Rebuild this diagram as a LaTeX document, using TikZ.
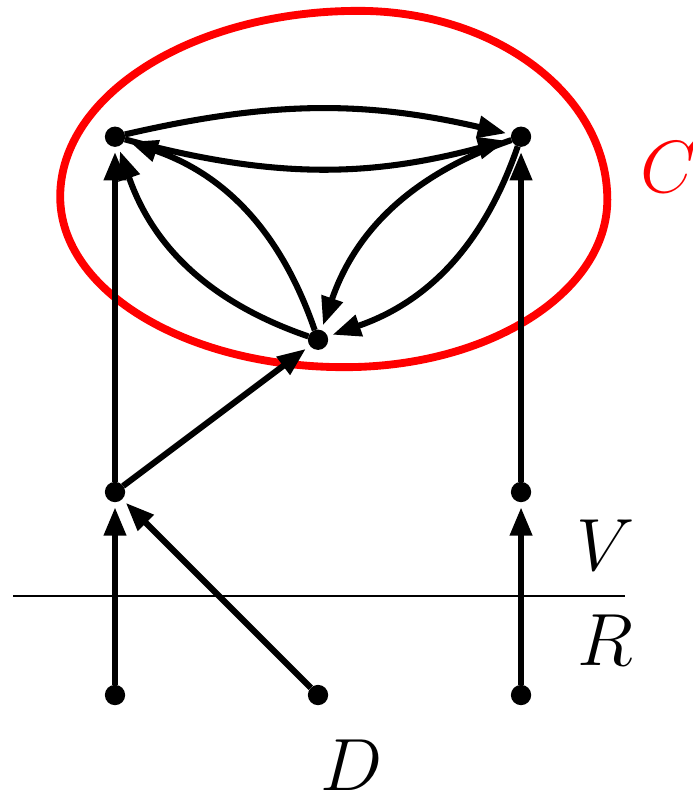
\documentclass[tikz,border=0pt]{standalone}
\usetikzlibrary{arrows.meta}
\begin{document}
\begin{tikzpicture}[>={Triangle[length=2.8mm,width=2.1mm]}, line width=1.7pt,
		dot/.style={circle, fill, inner sep=0pt, minimum size=2mm, outer sep=0pt},
		arr/.style={->, shorten >=0.5mm},
		lbl/.style={font=\huge}]
	\useasboundingbox (-1.133,-1.034) rectangle (5.685,6.847);
	% the set C
	\draw[red, line width=2.2pt] (-0.54,4.91) .. controls (-0.54,5.92) and (0.78,6.74) .. (2.40,6.74)
		.. controls (3.75,6.74) and (4.85,5.91) .. (4.85,4.88)
		.. controls (4.85,3.97) and (3.69,3.23) .. (2.26,3.23)
		.. controls (0.71,3.23) and (-0.54,3.98) .. cycle;
	\node[lbl, text=red] (c) at (5.46,5.2) {$C$};
	% the line between V and R
	\coordinate (w) at (-1,0.975);
	\coordinate (e) at (5.02,0.975);
	\draw[semithick] (w) -- (e);
	\node[lbl] (v) at (4.83,1.48) {$V$};
	\node[lbl] (r) at (4.83,0.54) {$R$};
	\node[lbl] (d) at (2.33,-0.69) {$D$};
	% vertices
	\node[dot] (r1) at (0,0) {};
	\node[dot] (r2) at (2,0) {};
	\node[dot] (r3) at (4,0) {};
	\node[dot] (v1) at (0,2) {};
	\node[dot] (v2) at (4,2) {};
	\node[dot] (m) at (2,3.5) {};
	\node[dot] (a1) at (0,5.5) {};
	\node[dot] (a2) at (4,5.5) {};
	% edges
	\draw[arr] (r1) -- (v1);
	\draw[arr] (r2) -- (v1);
	\draw[arr] (r3) -- (v2);
	\draw[arr] (v1) -- (a1);
	\draw[arr] (v2) -- (a2);
	\draw[arr] (v1) -- (m);
	\draw[arr] (a1) to[bend left=13] (a2);
	\draw[arr] (a1) to[bend right=15] (a2);
	\draw[arr] (m) to[bend left=26] (a1);
	\draw[arr] (m) to[bend right=26] (a1);
	\draw[arr] (a2) to[bend left=26] (m);
	\draw[arr] (a2) to[bend right=26] (m);
\end{tikzpicture}
\end{document}
